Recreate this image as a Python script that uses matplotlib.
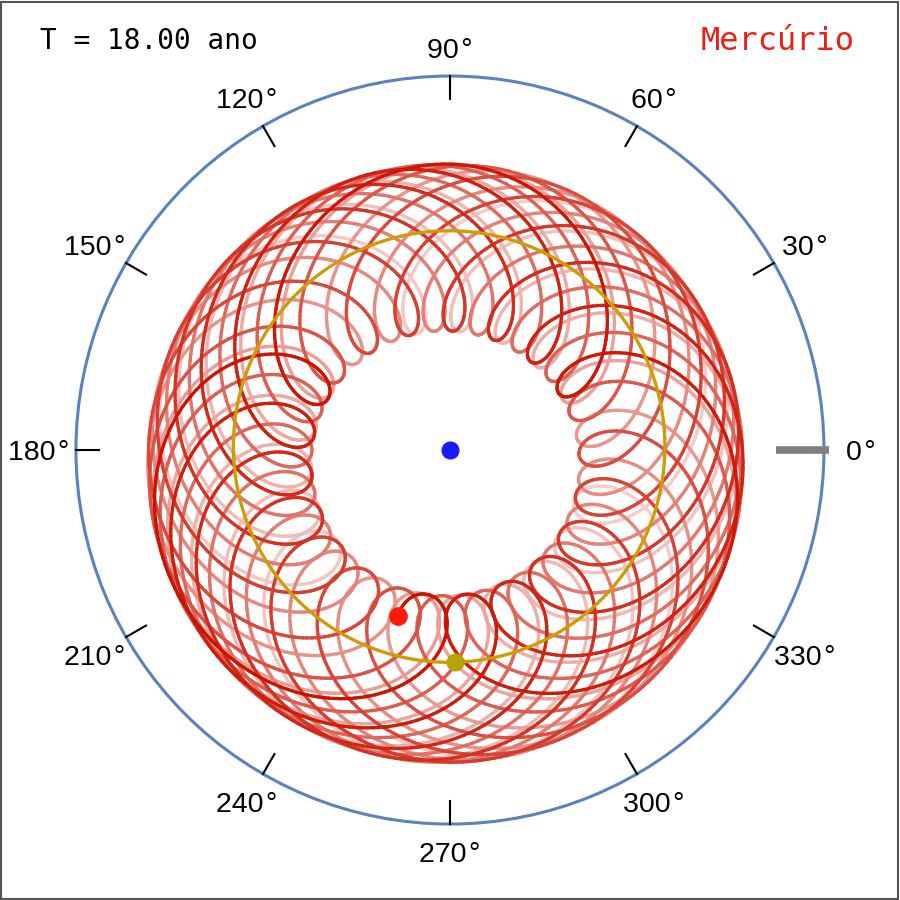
"""
geocentric path of Mercury, ecliptic longitude view
"""

import numpy as np
import matplotlib
matplotlib.use("Agg")
import matplotlib.pyplot as plt
from matplotlib.collections import LineCollection
from matplotlib.colors import to_rgb
from matplotlib.patches import Rectangle

# elapsed time and title texts
t_end = 18.00
time_label = "T = 18.00 ano"
planet_name = "Mercúrio"

# orbital elements (a [AU], e, longitude of perihelion [deg], period [yr])
earth_a, earth_e, earth_peri, earth_period = 1.0, 0.0167, 102.9, 1.0
merc_a, merc_e, merc_peri, merc_period = 0.387, 0.2056, 77.46, 0.24085

# heliocentric longitudes at t_end
earth_lon_end = 91.3
merc_lon_end = 140.9

# angle ticks and labels
tick_deg = [0, 30, 60, 90, 120, 150, 180, 210, 240, 270, 300, 330]
tick_txt = ["%d\u200a°" % d for d in tick_deg]

r_max = 1.733


def mean_anom_from_lon(lon, e, peri):
    nu = np.radians(lon - peri)
    E = 2 * np.arctan(np.sqrt((1 - e) / (1 + e)) * np.tan(nu / 2))
    return E - e * np.sin(E)


def orbit_xy(t, a, e, peri, period, lon_end):
    M0 = mean_anom_from_lon(lon_end, e, peri) - 2 * np.pi * t_end / period
    M = M0 + 2 * np.pi * t / period
    E = M.copy()
    for _ in range(30):
        E = E - (E - e * np.sin(E) - M) / (1 - e * np.cos(E))
    nu = 2 * np.arctan2(np.sqrt(1 + e) * np.sin(E / 2), np.sqrt(1 - e) * np.cos(E / 2))
    r = a * (1 - e * np.cos(E))
    lon = nu + np.radians(peri)
    return r * np.cos(lon), r * np.sin(lon)


t = np.linspace(0, t_end, 9000)
ex, ey = orbit_xy(t, earth_a, earth_e, earth_peri, earth_period, earth_lon_end)
mx, my = orbit_xy(t, merc_a, merc_e, merc_peri, merc_period, merc_lon_end)

# geocentric positions
sx, sy = -ex, -ey
gx, gy = mx - ex, my - ey
g_th, g_r = np.arctan2(gy, gx), np.hypot(gx, gy)
s_th, s_r = np.arctan2(sy, sx), np.hypot(sx, sy)

fig = plt.figure(figsize=(9, 9), dpi=100)
ax = fig.add_axes([0.0844, 0.0844, 0.8311, 0.8311], projection="polar")

# fading trail: old -> pale, recent -> strong
base = np.array(to_rgb("#cc1100"))
frac = np.linspace(0.2, 1.0, len(t) - 1)
cols = 1 - frac[:, None] * (1 - base[None, :])
pts = np.column_stack([np.unwrap(g_th), g_r]).reshape(-1, 1, 2)
segs = np.concatenate([pts[:-1], pts[1:]], axis=1)
lc = LineCollection(segs, colors=cols, linewidths=2.4, capstyle="round")
ax.add_collection(lc)

# sun's apparent path over the last year
last = t >= t_end - 1.0
ax.plot(s_th[last], s_r[last], color="#cf9c08", lw=2.4, zorder=3)

ax.plot([0], [0], "o", color="#1a1aff", ms=12, zorder=5)
ax.plot(s_th[-1], s_r[-1], "o", color="#b4a400", ms=12, zorder=5)
ax.plot(g_th[-1], g_r[-1], "o", color="#ff1a0a", ms=12.5, zorder=5)

# angle ticks pointing inward from the rim
for d in tick_deg:
    ax.plot([np.radians(d)] * 2, [r_max * (1 - 23 / 374), r_max], color="black",
            lw=1.5, clip_on=False, zorder=4)

# reference direction
ax.plot([0, 0], [1.511, 1.756], color="#808080", lw=5.5, clip_on=False,
        solid_capstyle="butt", zorder=6)

ax.set_ylim(0, r_max)
ax.set_yticks([])
ax.set_xticks([])
ax.grid(False)
ax.spines["polar"].set_color("#5b82bd")
ax.spines["polar"].set_linewidth(2.2)

for d, s in zip(tick_deg, tick_txt):
    th = np.radians(d)
    rr = r_max * (1.075 + 0.025 * abs(np.cos(th)))
    ax.text(th, rr, s, ha="center", va="center_baseline", fontsize=20.5,
            family=["Liberation Sans", "DejaVu Sans"], clip_on=False)

fig.text(0.044, 0.954, time_label, family="DejaVu Sans Mono", fontsize=20,
         ha="left", va="center")
fig.text(0.779, 0.954, planet_name, family="DejaVu Sans Mono", fontsize=23,
         color="#f01e14", ha="left", va="center")

fig.patches.append(Rectangle((0.001, 0.001), 0.997, 0.997, transform=fig.transFigure,
                             fill=False, edgecolor="#555555", lw=1.5))

fig.savefig("out.png", dpi=100)
